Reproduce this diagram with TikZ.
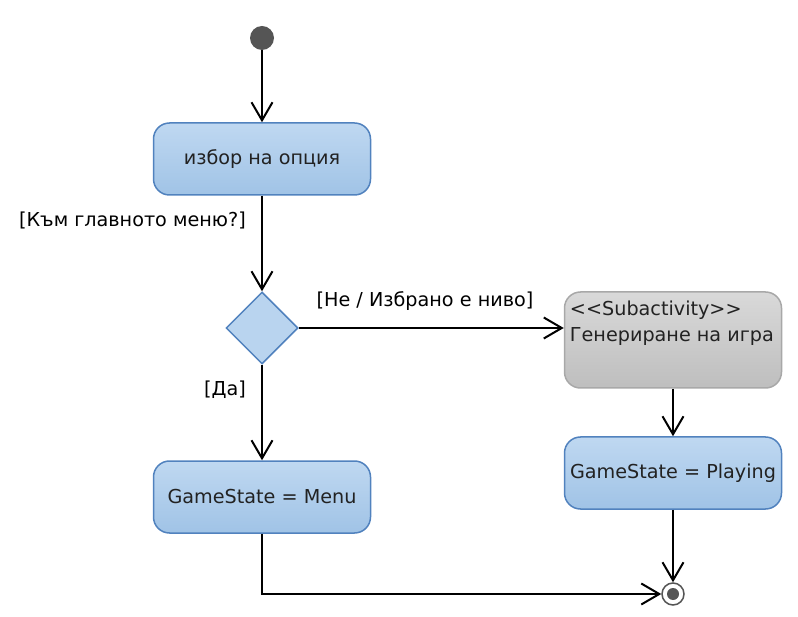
\documentclass[tikz,border=0pt]{standalone}
\usepackage{fontspec}
\setmainfont{DejaVu Sans}
\usetikzlibrary{arrows.meta,shapes.geometric}
\definecolor{boxtop}{HTML}{BFD8F1}
\definecolor{boxbot}{HTML}{A0C3E6}
\definecolor{boxline}{HTML}{5182BE}
\definecolor{dfill}{HTML}{B9D4EF}
\definecolor{subtop}{HTML}{D9D9D9}
\definecolor{subbot}{HTML}{BEBEBE}
\definecolor{subline}{HTML}{A8A8A8}
\definecolor{txt}{HTML}{222222}
\definecolor{dot}{HTML}{555555}
\tikzset{
  action/.style={draw=boxline, line width=1.5pt, rounded corners=16pt,
    top color=boxtop, bottom color=boxbot, minimum width=217pt,
    minimum height=72pt, inner sep=0pt, text=txt},
  subbox/.style={draw=subline, line width=1.5pt, rounded corners=16pt,
    top color=subtop, bottom color=subbot, minimum width=217pt,
    minimum height=96pt, inner sep=0pt},
  decision/.style={diamond, draw=boxline, line width=1.5pt, fill=dfill,
    minimum width=72pt, minimum height=72pt, inner sep=0pt, aspect=1},
  flow/.style={line width=2pt, -{Straight Barb[length=18pt,width=21pt,line width=2pt]}},
  guard/.style={text=black, inner sep=0pt},
}
\begin{document}
\begin{tikzpicture}[x=1pt,y=-1pt, font=\fontsize{19.2}{23}\selectfont]
\useasboundingbox (0,0) rectangle (798,617);
\node[circle, fill=dot, minimum size=24pt, inner sep=0pt] (start) at (262,38) {};
\node[action] (choose) at (262,159) {избор на опция};
\node[decision] (dec) at (262,328) {};
\node[action] (menu) at (262,497) {GameState = Menu};
\node[subbox] (sub) at (673,340) {};
\node[anchor=north west, align=left, inner sep=0pt, text=txt, font=\fontsize{19.2}{26}\selectfont] (subtxt) at ([xshift=6pt,yshift=-9pt]sub.north west) {<{}<Subactivity>{}>\\Генериране на игра};
\node[action] (play) at (673,473) {GameState = Playing};
\node[circle, draw=dot, line width=1.5pt, fill=white, minimum size=22pt, inner sep=0pt] (final) at (673,594) {};
\fill[dot] (final.center) circle (6pt);

\draw[flow] (start) -- (choose);
\draw[flow] (choose) -- (dec);
\draw[flow] (dec) -- (menu);
\draw[flow] (dec) -- (sub.west |- dec);
\draw[flow] (sub) -- (play);
\draw[flow] (play) -- (final);
\coordinate (corner) at (menu.south |- final);
\draw[flow] (menu.south) -- (corner) -- (final);

\node[guard, anchor=east] (g1) at (246,220) {[Към главното меню?]};
\node[guard] (g2) at (425,301) {[Не / Избрано е ниво]};
\node[guard, anchor=east] (g3) at (246,390) {[Да]};
\end{tikzpicture}
\end{document}
